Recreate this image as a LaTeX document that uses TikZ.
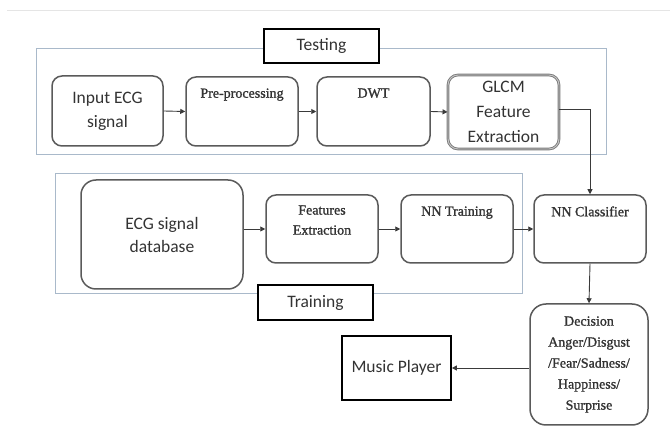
\documentclass[tikz,border=0pt]{standalone}
\usepackage{fontspec}
\setmainfont{Liberation Serif}
\newfontfamily\calib{Carlito}
\newfontfamily\serifheavy[FakeBold=1.2]{Liberation Serif}
\usetikzlibrary{arrows.meta}
\definecolor{panelc}{HTML}{A9B9CA}
\definecolor{boxc}{HTML}{5A5A5A}
\definecolor{arrc}{HTML}{3A3A3A}
\definecolor{txtc}{HTML}{333333}
\begin{document}
\begin{tikzpicture}[x=1pt,y=-1pt,
  panel/.style={draw=panelc, line width=0.9pt},
  rbox/.style={draw=boxc, line width=1.5pt, rounded corners=10pt, fill=white, inner sep=0pt},
  tagbox/.style={draw=black, line width=1.7pt, fill=white, inner sep=0pt, text=txtc, font=\calib\fontsize{17.5}{21}\selectfont},
  arr/.style={draw=arrc, line width=0.9pt, -{Triangle[length=5pt,width=5pt]}},
  serif/.style={font=\serifheavy\fontsize{14}{21}\selectfont, text=txtc, align=center, inner sep=0pt},
  sans/.style={font=\calib\fontsize{17.5}{24}\selectfont, text=txtc, align=center}
]
\useasboundingbox (0,0) rectangle (670,427);
\draw[black!10, line width=1pt] (7,11) -- (670,11);

% panels
\draw[panel] (36,48) rectangle (606,154);
\draw[panel] (55,173) rectangle (522,293);

% Testing row
\node[rbox, sans, minimum width=111pt, minimum height=70pt] (inp) at (107.5,111) {Input ECG\\signal};
\node[rbox, minimum width=112pt, minimum height=69pt,
      label={[serif, anchor=north, yshift=-12pt]north:Pre-processing}] (pre) at (242,111.5) {};
\node[rbox, minimum width=113pt, minimum height=69pt,
      label={[serif, anchor=north, yshift=-12pt]north:DWT}] (dwt) at (373.5,111.5) {};
\node[rbox, sans, draw=boxc!80, line width=0.9pt, double=boxc!35, double distance=0.9pt,
      font=\calib\fontsize{17.5}{25}\selectfont,
      minimum width=111pt, minimum height=74pt] (glcm) at (503.5,112) {GLCM\\Feature\\Extraction};
\node[tagbox, minimum width=115pt, minimum height=34pt] (testing) at (321.5,46) {Testing};

% Training row
\node[rbox, sans, rounded corners=15pt, font=\calib\fontsize{17.5}{23}\selectfont,
      minimum width=162pt, minimum height=109pt] (db) at (162,234.5) {ECG signal\\database};
\node[rbox, minimum width=112pt, minimum height=68pt,
      label={[serif, font=\serifheavy\fontsize{14}{20}\selectfont, anchor=north, yshift=-11pt]north:Features\\Extraction}] (feat) at (322,229) {};
\node[rbox, minimum width=112pt, minimum height=68pt,
      label={[serif, anchor=north, yshift=-12pt]north:NN Training}] (nnt) at (457,229) {};
\node[rbox, minimum width=112pt, minimum height=68pt,
      label={[serif, anchor=north, yshift=-12pt]north:NN Classifier}] (nnc) at (590,229) {};
\node[tagbox, minimum width=115pt, minimum height=35pt] (training) at (315.5,302.5) {Training};

% Decision and player
\node[rbox, serif, rounded corners=16pt, minimum width=118pt, minimum height=121pt] (dec) at (589,364.5)
  {Decision\\Anger/Disgust\\/Fear/Sadness/\\Happiness/\\Surprise};
\node[tagbox, minimum width=109pt, minimum height=64pt] (music) at (396.5,368) {Music Player};

% connectors
\draw[arr] (inp.east) -- (pre.west);
\draw[arr] (pre.east) -- (dwt.west);
\draw[arr] (dwt.east) -- (glcm.west);
\draw[arr] ([yshift=3pt]glcm.east) -| (nnc.north);
\draw[arr] (db.east |- feat.west) -- (feat.west);
\draw[arr] (feat.east) -- (nnt.west);
\draw[arr] (nnt.east) -- (nnc.west);
\draw[arr] (nnc.south) -- (dec.north);
\draw[arr] (dec.west |- music.east) -- (music.east);
\end{tikzpicture}
\end{document}
